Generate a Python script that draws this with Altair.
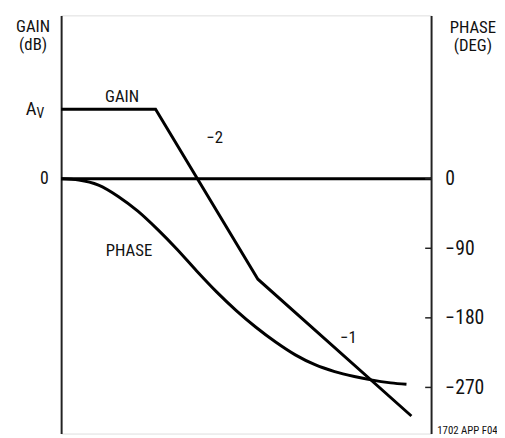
import altair as alt
import pandas as pd

# Gain curve (x in log-frequency units, y on the shared scale; A_V = 90)
gain_x = [0.0, 2.553, 5.319, 9.468]
gain_y = [90, 90, -130, -307]

# Phase curve (degrees)
phase_x = [0.0, 0.479, 1.011, 1.543, 2.074, 2.606, 3.138, 3.670, 4.202, 4.734,
           5.266, 5.798, 6.330, 6.862, 7.394, 7.926, 8.378, 8.910, 9.335]
phase_y = [0, -1.65, -8.27, -22.9, -42.0, -65.6, -91.6, -119.7, -146.4, -170.6,
           -192.2, -211.3, -227.9, -240.6, -249.5, -255.9, -260.3, -264.1, -266.0]

phase_ticks = [0, -90, -180, -270]

ann_text = ["GAIN", "\u22122", "PHASE", "\u22121"]
ann_x = [1.649, 4.149, 1.835, 7.766]
ann_y = [105.6, 52.0, -94.2, -206.2]

FONT = "Liberation Sans Narrow, Roboto Condensed, DejaVu Sans Condensed, Liberation Sans, sans-serif"
XD = [0, 10]
YD = [-329.7, 211.3]

gain_df = pd.DataFrame({"x": gain_x, "y": gain_y})
phase_df = pd.DataFrame({"x": phase_x, "y": phase_y})
tick_df = pd.DataFrame({"v": phase_ticks})
ann_df = pd.DataFrame({"t": ann_text, "x": ann_x, "y": ann_y})

xs = alt.Scale(domain=XD, nice=False, zero=False)
ys = alt.Scale(domain=YD, nice=False, zero=False)

left_axis = alt.Chart(pd.DataFrame({"y": [0]})).mark_point(opacity=0).encode(
    x=alt.X("y:Q", scale=xs, axis=None),
    y=alt.Y("y:Q", scale=ys, axis=alt.Axis(
        orient="left", values=[0], ticks=False, grid=False, labelPadding=13,
        labelFont=FONT, labelFontSize=18, labelColor="#111",
        domainColor="#222", domainWidth=2,
        title=["GAIN", "(dB)"], titleAngle=0, titleAlign="center", titleBaseline="alphabetic",
        titleX=-29, titleY=16, titleFont=FONT, titleFontSize=17, titleFontWeight="normal",
        titleLineHeight=19, titleColor="#111")),
)

zero_line = alt.Chart(pd.DataFrame({"y": [0]})).mark_rule(color="black", strokeWidth=3).encode(
    y=alt.Y("y:Q", scale=ys, axis=alt.Axis(
        orient="right", values=phase_ticks, ticks=False, grid=False, labelPadding=14,
        labelExpr="replace(format(datum.value, 'd'), '-', '\u2212')",
        labelFont=FONT, labelFontSize=20, labelColor="#111",
        domainColor="#222", domainWidth=2,
        title=["PHASE", "(DEG)"], titleAngle=0, titleAlign="center", titleBaseline="alphabetic",
        titleX=42, titleY=17, titleFont=FONT, titleFontSize=17, titleFontWeight="normal",
        titleLineHeight=19, titleColor="#111")),
)

gain = alt.Chart(gain_df).mark_line(color="black", strokeWidth=3).encode(
    x=alt.X("x:Q", scale=xs, axis=None),
    y=alt.Y("y:Q", scale=ys, axis=None),
)

phase = alt.Chart(phase_df).mark_line(color="black", strokeWidth=3, interpolate="monotone").encode(
    x=alt.X("x:Q", scale=xs, axis=None),
    y=alt.Y("y:Q", scale=ys, axis=None),
)

ticks = alt.Chart(tick_df).mark_rule(color="#222", strokeWidth=1.5).encode(
    x=alt.value(370), x2=alt.value(376),
    y=alt.Y("v:Q", scale=ys, axis=None),
)

ann = alt.Chart(ann_df).mark_text(font=FONT, fontSize=17, color="#111", align="center", baseline="middle").encode(
    x=alt.X("x:Q", scale=xs, axis=None),
    y=alt.Y("y:Q", scale=ys, axis=None),
    text="t:N",
)

av_a = alt.Chart(pd.DataFrame({"t": ["A"], "x": [-0.665], "y": [90]})).mark_text(
    font=FONT, fontSize=19, color="#111", align="right", baseline="middle").encode(
    x=alt.X("x:Q", scale=xs, axis=None), y=alt.Y("y:Q", scale=ys, axis=None), text="t:N")
av_v = alt.Chart(pd.DataFrame({"t": ["V"], "x": [-0.665], "y": [84]})).mark_text(
    font=FONT, fontSize=14, color="#111", align="left", baseline="middle").encode(
    x=alt.X("x:Q", scale=xs, axis=None), y=alt.Y("y:Q", scale=ys, axis=None), text="t:N")

code = alt.Chart(pd.DataFrame({"t": ["1702 APP F04"], "x": [11.8], "y": [-326.0]})).mark_text(
    font=FONT, fontSize=11, color="#111", align="right", baseline="middle").encode(
    x=alt.X("x:Q", scale=xs, axis=None), y=alt.Y("y:Q", scale=ys, axis=None), text="t:N")

chart = alt.layer(left_axis, zero_line, ticks, gain, phase, ann, av_a, av_v, code).resolve_scale(
    y="shared"
).resolve_axis(
    y="independent"
).properties(
    width=376, height=425, autosize="none",
    padding={"left": 54, "top": 4, "right": 67, "bottom": 1},
).configure_view(stroke=None).configure(background="white")

chart.save("out.html", embed_options={"renderer": "svg", "actions": False})
